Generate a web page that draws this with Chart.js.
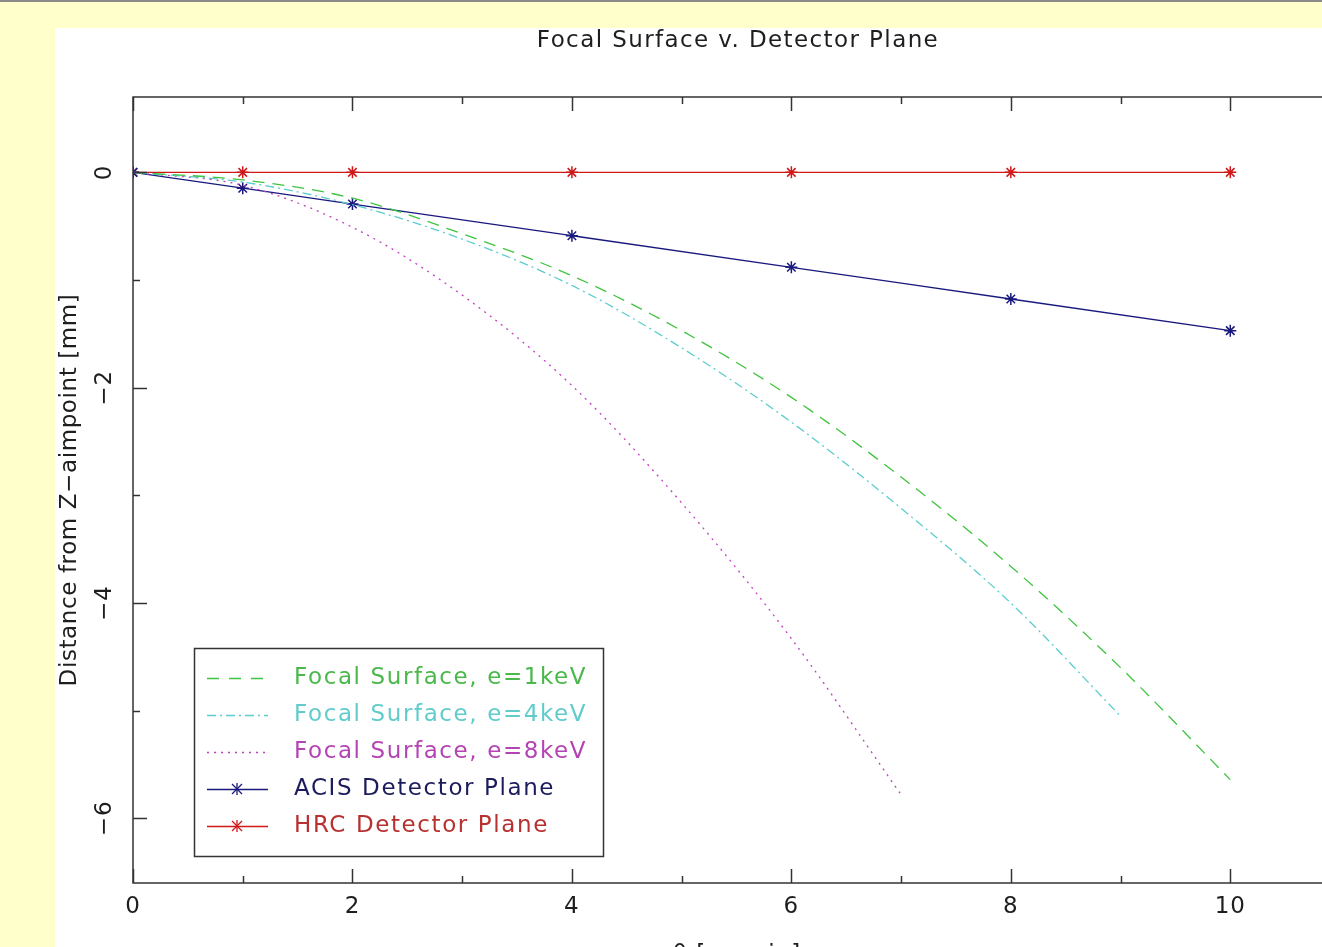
<!DOCTYPE html>
<html>
<head>
<meta charset="utf-8">
<title>Focal Surface v. Detector Plane</title>
<script src="https://cdn.jsdelivr.net/npm/chart.js@4.4.1/dist/chart.umd.min.js"></script>
<style>
  html, body { margin: 0; padding: 0; overflow: hidden; }
  body { background: #ffffcc; width: 1322px; height: 947px; position: relative; }
  #topline { position: absolute; left: 0; top: 0; width: 1322px; height: 2px; background: #8a8a8a; }
  #panel { position: absolute; left: 55px; top: 28px; width: 1400px; height: 960px; background: #ffffff; }
</style>
</head>
<body>
<div id="topline"></div>
<div id="panel"><canvas id="focalChart" width="1400" height="960"></canvas></div>
<script>
// values (x = off-axis angle, y = mm)
const offAxis = [0, 1, 2, 3, 4, 5, 6, 7, 8, 9, 10];
const focal1keV = [0, -0.07, -0.24, -0.57, -0.96, -1.47, -2.09, -2.83, -3.66, -4.60, -5.64];
const focal4keV = [0, -0.09, -0.30, -0.62, -1.05, -1.63, -2.32, -3.12, -4.00, -5.05];
const focal8keV = [0, -0.12, -0.51, -1.14, -1.98, -3.07, -4.33, -5.78];
const detectorX = [0, 1, 2, 4, 6, 8, 10];
const acisPlane = [0, -0.147, -0.294, -0.588, -0.882, -1.176, -1.47];
const hrcPlane = [0, 0, 0, 0, 0, 0, 0];

const seriesNames = ["Focal Surface, e=1keV", "Focal Surface, e=4keV", "Focal Surface, e=8keV", "ACIS Detector Plane", "HRC Detector Plane"];
const xMajor = [0, 2, 4, 6, 8, 10];
const xMinor = [1, 3, 5, 7, 9];
const yMajor = [0, -2, -4, -6];
const yMinor = [-1, -3, -5];

const FONT = "23px 'DejaVu Sans'";
const INK = "#1e1e1e";

class FocalPlot {

    static pairUp(xs, ys) { //zip x and y lists into point objects
        return ys.map((v, i) => ({x: xs[i], y: v}));
    }

    static makeDatasets() {
        return [
            {label: seriesNames[0], data: FocalPlot.pairUp(offAxis, focal1keV), borderColor: "#3fc43f", borderDash: [12, 8], pointRadius: 0, text: "#4ab84a"},
            {label: seriesNames[1], data: FocalPlot.pairUp(offAxis, focal4keV), borderColor: "#5ccccc", borderDash: [9, 4, 2, 4], pointRadius: 0, text: "#62cccc"},
            {label: seriesNames[2], data: FocalPlot.pairUp(offAxis, focal8keV), borderColor: "#c040c0", borderDash: [2, 5], pointRadius: 0, text: "#b444b4"},
            {label: seriesNames[3], data: FocalPlot.pairUp(detectorX, acisPlane), borderColor: "#18187e", pointRadius: 6, pointStyle: "star", text: "#1c1c5c"},
            {label: seriesNames[4], data: FocalPlot.pairUp(detectorX, hrcPlane), borderColor: "#d01818", pointRadius: 6, pointStyle: "star", text: "#b83030"}
        ].map(d => Object.assign({
            showLine: true,
            borderWidth: 1.3,
            backgroundColor: d.borderColor,
            pointBorderColor: d.borderColor,
            pointBorderWidth: 1.5,
            cubicInterpolationMode: "monotone"
        }, d));
    }

    // the frame, inward ticks, labels, title and the boxed legend
    static decorations = {
        id: "decorations",
        afterDraw(chart) {
            const ctx = chart.ctx;
            const sx = chart.scales.x, sy = chart.scales.y, a = chart.chartArea;
            ctx.save();
            ctx.strokeStyle = "#333";
            ctx.lineWidth = 1.5;
            ctx.strokeRect(a.left, a.top, a.right - a.left, a.bottom - a.top);

            const tick = (x1, y1, x2, y2) => { ctx.beginPath(); ctx.moveTo(x1, y1); ctx.lineTo(x2, y2); ctx.stroke(); };
            xMajor.concat(xMinor).forEach(v => {
                const px = Math.round(sx.getPixelForValue(v)) + 0.5;
                const len = xMajor.includes(v) ? 14 : 7;
                tick(px, a.bottom, px, a.bottom - len);
                tick(px, a.top, px, a.top + len);
            });
            yMajor.concat(yMinor).forEach(v => {
                const py = Math.round(sy.getPixelForValue(v)) + 0.5;
                const len = yMajor.includes(v) ? 14 : 7;
                tick(a.left, py, a.left + len, py);
                tick(a.right, py, a.right - len, py);
            });

            ctx.font = FONT;
            ctx.fillStyle = INK;
            ctx.textAlign = "center";
            ctx.textBaseline = "middle";
            ctx.letterSpacing = "1px";
            xMajor.forEach(v => ctx.fillText(String(v), sx.getPixelForValue(v), a.bottom + 24));
            yMajor.forEach(v => {
                ctx.save();
                ctx.translate(a.left - 28, sy.getPixelForValue(v));
                ctx.rotate(-Math.PI / 2);
                ctx.fillText(String(v).replace("-", "\u2212"), 0, 0);
                ctx.restore();
            });

            //title and axis names
            ctx.letterSpacing = "1.4px";
            ctx.fillText("Focal Surface v. Detector Plane", 683, 13);
            ctx.letterSpacing = "0.6px";
            ctx.save();
            ctx.translate(15, 462);
            ctx.rotate(-Math.PI / 2);
            ctx.fillText("Distance from Z\u2212aimpoint [mm]", 0, 0);
            ctx.restore();
            ctx.letterSpacing = "1px";
            ctx.textBaseline = "top";
            ctx.fillText("\u03b8 [arcmin]", 682, 916);

            //legend box
            ctx.lineWidth = 1.5;
            ctx.strokeStyle = "#333";
            ctx.strokeRect(139.5, 620.5, 409, 208);
            ctx.textAlign = "left";
            ctx.textBaseline = "middle";
            ctx.letterSpacing = "1.6px";
            chart.data.datasets.forEach((d, i) => {
                const ly = 650 + i * 37;
                ctx.strokeStyle = d.borderColor;
                ctx.lineWidth = 1.3;
                ctx.setLineDash(d.pointStyle ? [] : (i === 0 ? [12, 10] : d.borderDash));
                tick(152, ly + 0.5, 213, ly + 0.5);
                ctx.setLineDash([]);
                if (d.pointStyle) {
                    tick(182 - 5, ly - 5, 182 + 5, ly + 5);
                    tick(182 - 5, ly + 5, 182 + 5, ly - 5);
                    tick(182, ly - 6, 182, ly + 6);
                }
                ctx.fillStyle = d.text;
                ctx.fillText(d.label, 239, ly);
            });
            ctx.restore();
        }
    };

    static createGraph() {
        const zeroFit = s => { if (s.isHorizontal()) { s.height = 0; } else { s.width = 0; } };
        const hidden = {display: false};
        new Chart("focalChart", {
            type: "scatter",
            data: {datasets: FocalPlot.makeDatasets()},
            options: {
                responsive: false,
                animation: false,
                layout: {padding: {left: 78, top: 69, right: 115, bottom: 105}},
                plugins: {legend: hidden, title: hidden, tooltip: {enabled: false}},
                scales: {
                    x: {type: "linear", min: 0, max: 11, afterFit: zeroFit, grid: hidden, ticks: hidden, border: hidden},
                    y: {type: "linear", min: -6.6, max: 0.7, afterFit: zeroFit, grid: hidden, ticks: hidden, border: hidden}
                }
            },
            plugins: [FocalPlot.decorations]
        });
    }
}

FocalPlot.createGraph();
</script>
</body>
</html>
